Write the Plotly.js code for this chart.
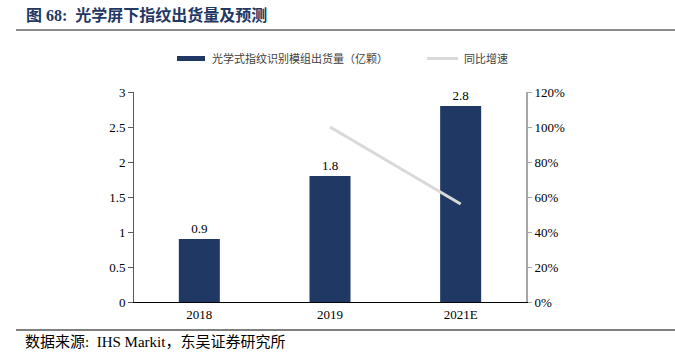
<!DOCTYPE html>
<html>
<head>
<meta charset="utf-8">
<script src="https://cdn.plot.ly/plotly-3.0.1.min.js"></script>
<style>html,body{margin:0;padding:0;background:#fff;}#chart{width:675px;height:352px;}</style>
</head>
<body>
<div id="chart"></div>
<script>
const categories = ['2018', '2019', '2021E'];
const shipments = [0.9, 1.8, 2.8];
const growthCats = ['2019', '2021E'];
const growth = [1.00, 0.56];
const barName = '光学式指纹识别模组出货量（亿颗）';
const lineName = '同比增速';

const serif = 'Liberation Serif, Times New Roman, serif';
const cjk = 'Noto Sans CJK SC, sans-serif';

const L = 134, R = 526, T = 92, B = 302;
const px = x => (x - L) / (R - L);
const py = y => (B - y) / (B - T);

const traces = [
  {
    type: 'bar', x: categories, y: shipments, name: barName,
    marker: {color: '#203864'}, width: 0.314,
    text: shipments.map(v => v.toFixed(1)), textposition: 'outside',
    textfont: {family: serif, size: 13, color: '#000'}, cliponaxis: false,
    showlegend: false
  },
  {
    type: 'scatter', mode: 'lines', x: growthCats, y: growth, yaxis: 'y2', name: lineName,
    line: {color: '#d9d9d9', width: 3}, showlegend: false
  }
];

const layout = {
  width: 675, height: 352,
  margin: {l: L, r: 675 - R, t: T, b: 352 - B},
  paper_bgcolor: '#fff', plot_bgcolor: '#fff',
  xaxis: {
    type: 'category', range: [-0.5, 2.5], showline: true, linecolor: '#000', linewidth: 1,
    ticks: '', showgrid: false, zeroline: false,
    tickfont: {family: serif, size: 13, color: '#000'}
  },
  yaxis: {
    range: [0, 3], dtick: 0.5, showline: true, linecolor: '#595959', linewidth: 1,
    ticks: 'outside', ticklen: 5, tickcolor: '#595959', showgrid: false, zeroline: false,
    tickfont: {family: serif, size: 13, color: '#000'}
  },
  yaxis2: {
    overlaying: 'y', side: 'right', range: [0, 1.2], dtick: 0.2, tickformat: '.0%',
    showline: true, linecolor: '#a6a6a6', linewidth: 2,
    ticks: 'outside', ticklen: 4, tickcolor: '#a6a6a6', showgrid: false, zeroline: false,
    tickfont: {family: serif, size: 13, color: '#000'}
  },
  shapes: [
    {type: 'line', xref: 'paper', yref: 'paper', x0: px(16), x1: px(675), y0: py(30), y1: py(30), line: {color: '#8c8c8c', width: 2}},
    {type: 'line', xref: 'paper', yref: 'paper', x0: px(16), x1: px(675), y0: py(330), y1: py(330), line: {color: '#000', width: 1}},
    {type: 'rect', xref: 'paper', yref: 'paper', x0: px(177), x1: px(205), y0: py(61), y1: py(56), fillcolor: '#203864', line: {width: 0}},
    {type: 'line', xref: 'paper', yref: 'paper', x0: px(427), x1: px(458), y0: py(58.5), y1: py(58.5), line: {color: '#d9d9d9', width: 3}}
  ],
  annotations: [
    {xref: 'paper', yref: 'paper', x: px(24), y: py(15), xanchor: 'left', yanchor: 'middle', showarrow: false,
     text: '<b>图 68:&nbsp;&nbsp;光学屏下指纹出货量及预测</b>', font: {family: serif + ', ' + cjk, size: 16, color: '#1f3864'}},
    {xref: 'paper', yref: 'paper', x: px(210), y: py(58.5), xanchor: 'left', yanchor: 'middle', showarrow: false,
     text: barName, font: {family: cjk, size: 11, color: '#404040'}},
    {xref: 'paper', yref: 'paper', x: px(462), y: py(58.5), xanchor: 'left', yanchor: 'middle', showarrow: false,
     text: lineName, font: {family: cjk, size: 11, color: '#404040'}},
    {xref: 'paper', yref: 'paper', x: px(24), y: py(342), xanchor: 'left', yanchor: 'middle', showarrow: false, borderpad: 0,
     text: '数据来源:&nbsp;&nbsp;IHS Markit，东吴证券研究所', font: {family: serif + ', ' + cjk, size: 15, color: '#000'}}
  ]
};

Plotly.newPlot('chart', traces, layout, {displayModeBar: false, staticPlot: true});
</script>
</body>
</html>
